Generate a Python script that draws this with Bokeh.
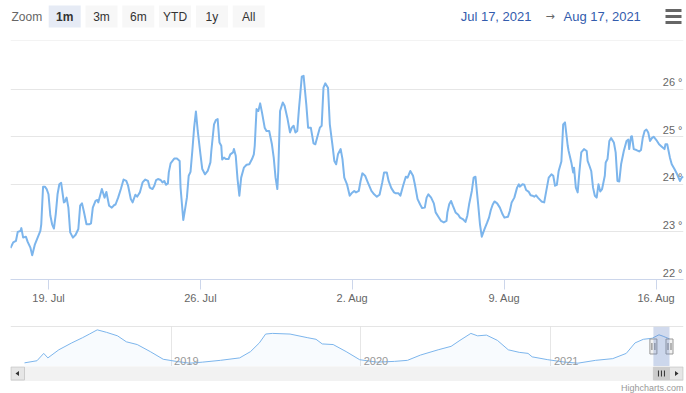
import numpy as np
import pandas as pd
from bokeh.plotting import figure
from bokeh.layouts import column
from bokeh.models import Range1d, FixedTicker, Grid, BoxAnnotation, Span
from bokeh.embed import file_html
from bokeh.resources import INLINE
from bokeh.core.properties import value

FONT = "Liberation Sans"
W = 686
PL, PR = 10, 683  # plot-area left / right edge in page pixels

# ---------------- data ----------------
base = pd.Timestamp("2021-07-17 00:00")
hours = [
    6, 9, 12, 14, 17, 18, 20, 23, 25, 28,
    30, 33, 36, 39, 40, 42, 44, 46, 48, 50,
    52, 54, 56, 58, 60, 62, 65, 66, 68, 70,
    72, 75, 78, 81, 83, 85, 87, 90, 93, 95,
    97, 100, 102, 103, 107, 110, 112, 115, 118, 121,
    122, 125, 128, 131, 134, 136, 139, 141, 144, 146,
    149, 152, 155, 158, 160, 163, 165, 167, 169, 172,
    174, 176, 178, 180, 181, 183, 187, 190, 193, 194,
    197, 199, 201, 203, 205, 207, 209, 211, 213, 216,
    218, 221, 224, 227, 228, 231, 233, 235, 237, 239,
    240, 242, 244, 247, 249, 252, 253, 255, 257, 259,
    261, 264, 267, 270, 273, 275, 276, 278, 280, 282,
    284, 287, 289, 292, 295, 297, 299, 301, 302, 304,
    307, 309, 312, 315, 317, 319, 321, 323, 325, 326,
    328, 330, 333, 335, 338, 341, 343, 346, 348, 350,
    352, 354, 357, 359, 362, 364, 366, 368, 371, 373,
    375, 378, 381, 383, 386, 388, 391, 393, 395, 398,
    401, 405, 408, 411, 414, 417, 419, 422, 424, 427,
    430, 432, 435, 437, 440, 443, 445, 448, 451, 453,
    456, 459, 461, 464, 466, 468, 471, 474, 476, 479,
    482, 485, 488, 489, 491, 493, 495, 498, 501, 503,
    506, 509, 511, 513, 516, 518, 520, 523, 525, 527,
    530, 533, 535, 537, 539, 541, 544, 547, 550, 552,
    556, 558, 560, 563, 566, 568, 569, 572, 574, 576,
    579, 581, 583, 585, 587, 589, 593, 596, 598, 601,
    604, 606, 608, 610, 612, 615, 617, 619, 622, 623,
    626, 628, 629, 631, 633, 635, 637, 640, 643, 644,
    646, 648, 650, 652, 654, 656, 658, 660, 663, 664,
    666, 668, 670, 673, 675, 677, 679, 681, 684, 687,
    689, 690, 692, 693, 695, 698, 701, 703, 705, 707,
    709, 711, 713, 715, 717, 720, 723, 726, 729, 730,
    732, 735, 737, 740, 743, 746, 748, 750,
]
temps = [
    22.66, 22.78, 22.81, 23.00, 23.02, 23.08, 22.88, 22.90, 22.79, 22.67,
    22.51, 22.74, 22.88, 23.02, 23.16, 23.95, 23.95, 23.90, 23.79, 23.35,
    23.16, 23.07, 23.37, 23.79, 24.00, 24.03, 23.62, 23.63, 23.72, 23.51,
    22.99, 22.88, 22.94, 23.06, 23.55, 23.60, 23.44, 23.16, 23.16, 23.18,
    23.51, 23.65, 23.67, 23.62, 23.90, 23.72, 23.84, 23.55, 23.51, 23.57,
    23.57, 23.72, 23.90, 24.10, 24.07, 23.97, 23.69, 23.62, 23.78, 23.74,
    23.83, 24.04, 24.10, 24.07, 23.93, 23.90, 23.97, 24.09, 24.11, 24.09,
    24.04, 24.07, 23.99, 24.02, 24.25, 24.44, 24.54, 24.54, 24.49, 23.93,
    23.25, 23.48, 23.72, 24.18, 24.26, 24.70, 25.19, 25.53, 25.12, 24.63,
    24.32, 24.21, 24.28, 24.46, 24.70, 25.26, 25.35, 25.37, 24.88, 24.81,
    24.52, 24.56, 24.53, 24.53, 24.63, 24.67, 24.74, 24.60, 24.11, 23.76,
    24.14, 24.35, 24.41, 24.42, 24.53, 24.63, 24.81, 25.58, 25.54, 25.70,
    25.51, 25.19, 25.12, 25.12, 24.84, 24.56, 24.14, 23.90, 24.28, 25.54,
    25.72, 25.65, 25.40, 25.09, 25.19, 25.23, 25.09, 25.12, 25.61, 25.82,
    26.26, 26.28, 25.68, 25.19, 25.19, 24.86, 24.84, 25.05, 25.19, 25.23,
    26.03, 26.12, 26.03, 25.26, 24.81, 24.49, 24.42, 24.63, 24.74, 24.53,
    24.14, 24.00, 23.76, 23.81, 23.86, 23.83, 23.86, 24.07, 24.23, 24.18,
    24.04, 23.86, 23.79, 23.74, 23.78, 24.04, 24.25, 24.25, 24.07, 23.92,
    23.83, 23.81, 23.81, 23.76, 23.97, 24.16, 24.14, 24.28, 24.18, 24.00,
    23.69, 23.57, 23.50, 23.51, 23.72, 23.79, 23.72, 23.60, 23.41, 23.32,
    23.23, 23.20, 23.23, 23.41, 23.58, 23.65, 23.55, 23.41, 23.36, 23.30,
    23.27, 23.21, 23.34, 23.58, 23.86, 24.14, 24.16, 23.58, 23.16, 22.90,
    23.06, 23.20, 23.30, 23.46, 23.57, 23.64, 23.60, 23.51, 23.37, 23.30,
    23.32, 23.44, 23.62, 23.72, 23.93, 24.00, 23.95, 24.00, 23.99, 23.88,
    23.84, 23.77, 23.76, 23.74, 23.77, 23.72, 23.64, 23.62, 23.83, 24.14,
    24.21, 24.18, 23.97, 23.99, 24.28, 24.48, 25.26, 25.30, 24.81, 24.70,
    24.46, 24.25, 24.35, 23.93, 23.83, 24.28, 24.67, 24.74, 24.70, 24.49,
    24.39, 24.28, 23.93, 23.76, 23.72, 24.00, 23.85, 23.90, 24.18, 24.46,
    24.53, 24.91, 24.97, 24.88, 24.67, 24.07, 24.06, 24.42, 24.70, 24.91,
    24.94, 24.74, 25.00, 25.01, 24.74, 24.72, 24.69, 24.72, 24.98, 25.12,
    25.15, 25.09, 24.91, 24.97, 25.00, 24.93, 24.84, 24.79, 24.74, 24.84,
    24.84, 24.56, 24.42, 24.32, 24.21, 24.07, 24.14, 24.16,
]
y_label_values = [22, 23, 24, 25, 26]
y_grid_values = [22, 23, 24, 25, 26, 27]
y_min, y_max = 22, 27
tick_dates = ["2021-07-19", "2021-07-26", "2021-08-02", "2021-08-09", "2021-08-16"]
tick_labels = ["19. Jul", "26. Jul", "2. Aug", "9. Aug", "16. Aug"]

nav_dates = [
    "2018-03-25", "2018-04-18", "2018-05-01", "2018-05-09", "2018-05-30", "2018-06-24",
    "2018-07-15", "2018-07-28", "2018-08-12", "2018-08-30", "2018-09-20", "2018-10-07",
    "2018-10-28", "2018-11-22", "2018-12-17", "2019-01-11", "2019-02-06", "2019-03-03",
    "2019-04-06", "2019-05-13", "2019-06-03", "2019-06-20", "2019-07-02", "2019-07-15",
    "2019-08-18", "2019-09-20", "2019-10-07", "2019-10-19", "2019-11-09", "2019-12-04",
    "2019-12-30", "2020-02-01", "2020-03-06", "2020-03-31", "2020-04-25", "2020-05-29",
    "2020-06-23", "2020-07-10", "2020-07-31", "2020-08-13", "2020-08-30", "2020-09-20",
    "2020-10-11", "2020-11-01", "2020-11-18", "2020-11-26", "2020-12-26", "2021-01-28",
    "2021-02-22", "2021-03-28", "2021-04-30", "2021-05-26", "2021-06-12", "2021-06-28",
    "2021-07-15", "2021-07-28", "2021-08-05", "2021-08-17 06:00",
]
nav_vals = [
    14.13, 15.02, 18.11, 16.21, 19.61, 22.52,
    24.73, 26.23, 28.00, 26.94, 25.48, 22.97,
    21.82, 18.86, 15.64, 14.75, 14.00, 14.44,
    15.19, 16.21, 18.86, 22.52, 26.23, 26.50,
    26.23, 24.73, 24.03, 22.08, 21.82, 18.86,
    15.46, 14.44, 14.75, 15.19, 17.40, 19.61,
    21.07, 23.58, 26.50, 25.48, 25.79, 23.58,
    19.61, 18.55, 18.11, 16.65, 15.46, 14.44,
    14.00, 15.19, 15.90, 18.11, 22.52, 24.03,
    24.47, 25.92, 25.30, 24.20,
]
year_ticks = ["2019-01-01", "2020-01-01", "2021-01-01"]
year_labels = ["2019", "2020", "2021"]
buttons = ["1m", "3m", "6m", "YTD", "1y", "All"]
selected_button = "1m"


def ms(t):
    return pd.Timestamp(t).value / 1e6


times = base + pd.to_timedelta(hours, unit="h")
t_ms = [ms(t) for t in times]
end_ts = times[-1]
start_ts = end_ts - pd.DateOffset(months=1)
x0, x1 = ms(start_ts), ms(end_ts)


def blank(fig):
    fig.outline_line_color = None
    fig.background_fill_color = "white"
    fig.border_fill_color = "white"
    fig.grid.visible = False
    return fig


def pixel_fig(h):
    # a figure whose data units are page pixels (x) and pixels from its own top (y)
    return blank(figure(width=W, height=h, x_range=Range1d(PL, PR), y_range=Range1d(h, 0),
                        x_axis_location=None, y_axis_location=None, toolbar_location=None,
                        output_backend="svg", title=None, min_border_left=PL,
                        min_border_right=W - PR, min_border_top=0, min_border_bottom=0))


# ---------------- top bar (range selector) ----------------
top = pixel_fig(41)
top.text(x=[11], y=[16], text=["Zoom"], text_align="left", text_baseline="middle",
         text_font=value(FONT), text_font_size="12px", text_color="#666666")
bx = [64.2 + i * 36.8 for i in range(len(buttons))]
fills = ["#e6ebf5" if b == selected_button else "#f7f7f7" for b in buttons]
top.rect(x=bx, y=[16] * len(buttons), width=32, height=22, fill_color=fills, line_color=None)
for xx, b in zip(bx, buttons):
    top.text(x=[xx], y=[16], text=[b], text_align="center", text_baseline="middle",
             text_font=value(FONT), text_font_size="12px", text_color="#333333",
             text_font_style="bold" if b == selected_button else "normal")
top.text(x=[531], y=[16], text=[start_ts.strftime("%b %d, %Y")], text_align="right",
         text_baseline="middle", text_font=value(FONT), text_font_size="13px", text_color="#335cad")
top.text(x=[549.5], y=[16], text=["\u2192"], text_align="center",
         text_baseline="middle", text_font=value("DejaVu Sans"), text_font_size="11px",
         text_color="#666666")
top.text(x=[563], y=[16], text=[end_ts.strftime("%b %d, %Y")], text_align="left",
         text_baseline="middle", text_font=value(FONT), text_font_size="13px", text_color="#335cad")
top.segment(x0=[665] * 3, x1=[681] * 3, y0=[10, 16, 22], y1=[10, 16, 22],
            line_color="#666666", line_width=3)
# top grid line of the plot area (27 degrees)
top.segment(x0=[PL], x1=[PR], y0=[40.5], y1=[40.5], line_color="#e6e6e6", line_width=1)

# ---------------- main chart ----------------
main = blank(figure(width=W, height=277, x_axis_type="datetime", y_axis_location=None,
                    x_range=Range1d(x0, x1), y_range=Range1d(y_min, y_max),
                    toolbar_location=None, output_backend="svg", title=None,
                    min_border_left=PL, min_border_right=W - PR, min_border_top=0,
                    min_border_bottom=39))
main.add_layout(Grid(dimension=1, ticker=FixedTicker(ticks=y_grid_values),
                     grid_line_color="#e6e6e6", grid_line_width=1))
tick_ms = [int(ms(d)) for d in tick_dates]
xa = main.xaxis[0]
xa.ticker = FixedTicker(ticks=tick_ms)
xa.major_label_overrides = {t: lab for t, lab in zip(tick_ms, tick_labels)}
xa.axis_line_color = "#ccd6eb"
xa.major_tick_line_color = "#ccd6eb"
xa.major_tick_out = 10
xa.major_tick_in = 0
xa.minor_tick_out = 0
xa.minor_tick_in = 0
xa.major_label_standoff = 2
xa.major_label_text_font = FONT
xa.major_label_text_font_size = "11px"
xa.major_label_text_color = "#666666"

main.line(t_ms, temps, line_color="#7cb5ec", line_width=2, line_join="round")
main.text(x=[x1] * len(y_label_values), y=y_label_values,
          text=[f"{v} \u00b0" for v in y_label_values], text_align="right", text_baseline="bottom",
          x_offset=-1, y_offset=-1, text_font=value(FONT), text_font_size="11px",
          text_color="#666666")

# ---------------- navigator ----------------
nav_t = [ms(d) for d in nav_dates]
span = nav_t[-1] - nav_t[0]
pad = span * 14 / 645
nx0, nx1 = nav_t[0] - pad, nav_t[-1] + pad
lo, hi = min(nav_vals), max(nav_vals)
ny0, ny1 = lo - 0.1 * (hi - lo), hi + 0.1 * (hi - lo)
nav = blank(figure(width=W, height=48, x_axis_location=None, y_axis_location=None,
                   x_range=Range1d(nx0, nx1), y_range=Range1d(ny0, ny1),
                   toolbar_location=None, output_backend="svg", title=None,
                   min_border_left=PL, min_border_right=W - PR, min_border_top=8,
                   min_border_bottom=0))
year_ms = [ms(d) for d in year_ticks]
nav.add_layout(Grid(dimension=0, ticker=FixedTicker(ticks=year_ms),
                    grid_line_color="#e6e6e6", grid_line_width=1))
nav.varea(x=nav_t, y1=[ny0] * len(nav_t), y2=nav_vals, fill_color="#7cb5ec", fill_alpha=0.05)
nav.line(nav_t, nav_vals, line_color="#7cb5ec", line_width=1)
nav.text(x=year_ms, y=[ny0] * len(year_ms), text=year_labels, x_offset=3, y_offset=-2,
         text_align="left", text_baseline="bottom", text_font=value(FONT),
         text_font_size="11px", text_color="#999999")
nav.add_layout(BoxAnnotation(left=x0, right=x1, fill_color="#6685c2", fill_alpha=0.3,
                             line_color=None))
nav.add_layout(Span(location=ny1, dimension="width", line_color="#cccccc", line_width=1))
mid = (ny0 + ny1) / 2
nav.rect(x=[x0, x1], y=[mid, mid], width=7, height=15, width_units="screen",
         height_units="screen", fill_color="#f2f2f2", line_color="#999999", line_width=1)
mspp = (nx1 - nx0) / (PR - PL)
grip_x = [x0 - 1.5 * mspp, x0 + 1.5 * mspp, x1 - 1.5 * mspp, x1 + 1.5 * mspp]
nav.rect(x=grip_x, y=[mid] * 4, width=1, height=7, width_units="screen", height_units="screen",
         fill_color="#777777", line_color=None)

# ---------------- scrollbar + credits ----------------
sc = pixel_fig(27)
sc.quad(left=[PL], right=[PR], top=[0], bottom=[14], fill_color="#f2f2f2", line_color="#f2f2f2")
thumb_l = PL + (x0 - nx0) / (nx1 - nx0) * (PR - PL)
thumb_r = min(PL + (x1 - nx0) / (nx1 - nx0) * (PR - PL), PR - 14)
sc.quad(left=[thumb_l], right=[thumb_r], top=[0.5], bottom=[13.5],
        fill_color="#cccccc", line_color="#cccccc")
tc = (thumb_l + thumb_r) / 2
sc.segment(x0=[tc - 3, tc, tc + 3], x1=[tc - 3, tc, tc + 3], y0=[4] * 3, y1=[10] * 3,
           line_color="#333333", line_width=1)
sc.quad(left=[PL + 0.5, PR - 14], right=[PL + 14, PR - 0.5], top=[0.5, 0.5], bottom=[13.5, 13.5],
        fill_color="#e6e6e6", line_color="#cccccc")
sc.patches(xs=[[15, 18.5, 18.5], [678, 674.5, 674.5]], ys=[[7, 4.5, 9.5], [7, 4.5, 9.5]],
           fill_color="#333333", line_color=None)
sc.text(x=[PR], y=[21], text=["Highcharts.com"], text_align="right", text_baseline="middle",
        text_font=value(FONT), text_font_size="9px", text_color="#999999")

layout = column(top, main, nav, sc)
open("out.html", "w").write(file_html(layout, INLINE))
